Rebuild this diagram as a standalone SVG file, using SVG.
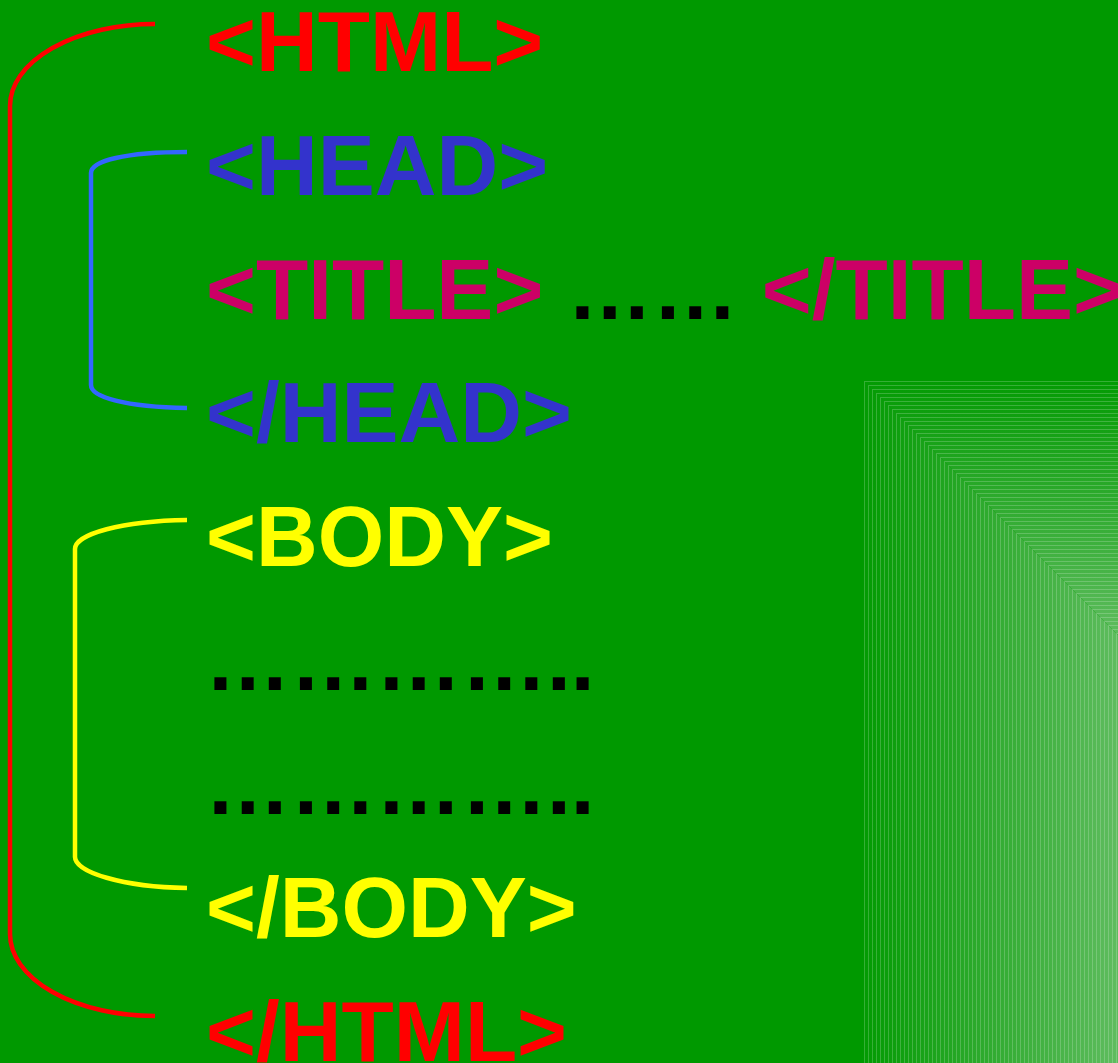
<svg xmlns="http://www.w3.org/2000/svg" xmlns:xlink="http://www.w3.org/1999/xlink" width="1118" height="1063" viewBox="0 0 1118 1063">
<style>
text{font-family:"Liberation Sans",Arial,sans-serif;font-weight:bold;font-size:85.5px}
.red{fill:#FF0000}
.blue{fill:#3333CC}
.ti{fill:#CC0066}
.yel{fill:#FFFF00}
.blk{fill:#000000}
.br{fill:none;stroke-width:4.5}
.gr{fill:none;stroke:#FFFFFF;stroke-opacity:0.2;stroke-width:1}
</style>
<defs>
<rect id="g" width="300" height="700" class="gr"/>
<linearGradient id="gx" gradientUnits="userSpaceOnUse" x1="864" y1="0" x2="1118" y2="0">
<stop offset="0" stop-color="#039B03"/><stop offset="1" stop-color="#5EBC5E"/>
</linearGradient>
<linearGradient id="gy" gradientUnits="userSpaceOnUse" x1="0" y1="381" x2="0" y2="635">
<stop offset="0" stop-color="#039B03"/><stop offset="1" stop-color="#5EBC5E"/>
</linearGradient>
</defs>
<rect x="0" y="0" width="1118" height="1063" fill="#009900"/>
<g id="shade">
<polygon points="864,381 1118,635 1118,1063 864,1063" fill="url(#gx)"/>
<polygon points="864,381 1118,381 1118,635" fill="url(#gy)"/>
<g transform="translate(0.5,0.5)">
<use xlink:href="#g" x="864" y="381"/><use xlink:href="#g" x="868" y="385"/><use xlink:href="#g" x="872" y="389"/><use xlink:href="#g" x="876" y="393"/>
<use xlink:href="#g" x="880" y="397"/><use xlink:href="#g" x="884" y="401"/><use xlink:href="#g" x="888" y="405"/><use xlink:href="#g" x="892" y="409"/>
<use xlink:href="#g" x="896" y="413"/><use xlink:href="#g" x="900" y="417"/><use xlink:href="#g" x="904" y="421"/><use xlink:href="#g" x="908" y="425"/>
<use xlink:href="#g" x="912" y="429"/><use xlink:href="#g" x="916" y="433"/><use xlink:href="#g" x="920" y="437"/><use xlink:href="#g" x="924" y="441"/>
<use xlink:href="#g" x="928" y="445"/><use xlink:href="#g" x="932" y="449"/><use xlink:href="#g" x="936" y="453"/><use xlink:href="#g" x="940" y="457"/>
<use xlink:href="#g" x="944" y="461"/><use xlink:href="#g" x="948" y="465"/><use xlink:href="#g" x="952" y="469"/><use xlink:href="#g" x="956" y="473"/>
<use xlink:href="#g" x="960" y="477"/><use xlink:href="#g" x="964" y="481"/><use xlink:href="#g" x="968" y="485"/><use xlink:href="#g" x="972" y="489"/>
<use xlink:href="#g" x="976" y="493"/><use xlink:href="#g" x="980" y="497"/><use xlink:href="#g" x="984" y="501"/><use xlink:href="#g" x="988" y="505"/>
<use xlink:href="#g" x="992" y="509"/><use xlink:href="#g" x="996" y="513"/><use xlink:href="#g" x="1000" y="517"/><use xlink:href="#g" x="1004" y="521"/>
<use xlink:href="#g" x="1008" y="525"/><use xlink:href="#g" x="1012" y="529"/><use xlink:href="#g" x="1016" y="533"/><use xlink:href="#g" x="1020" y="537"/>
<use xlink:href="#g" x="1024" y="541"/><use xlink:href="#g" x="1028" y="545"/><use xlink:href="#g" x="1032" y="549"/><use xlink:href="#g" x="1036" y="553"/>
<use xlink:href="#g" x="1040" y="557"/><use xlink:href="#g" x="1044" y="561"/><use xlink:href="#g" x="1048" y="565"/><use xlink:href="#g" x="1052" y="569"/>
<use xlink:href="#g" x="1056" y="573"/><use xlink:href="#g" x="1060" y="577"/><use xlink:href="#g" x="1064" y="581"/><use xlink:href="#g" x="1068" y="585"/>
<use xlink:href="#g" x="1072" y="589"/><use xlink:href="#g" x="1076" y="593"/><use xlink:href="#g" x="1080" y="597"/><use xlink:href="#g" x="1084" y="601"/>
<use xlink:href="#g" x="1088" y="605"/><use xlink:href="#g" x="1092" y="609"/><use xlink:href="#g" x="1096" y="613"/><use xlink:href="#g" x="1100" y="617"/>
<use xlink:href="#g" x="1104" y="621"/><use xlink:href="#g" x="1108" y="625"/><use xlink:href="#g" x="1112" y="629"/><use xlink:href="#g" x="1116" y="633"/>
</g>
</g>
<g id="connectors">
<path class="br" stroke="#FF0000" d="M155,24 A145,82 0 0 0 10,106 L10,934 A145,82 0 0 0 155,1016"/>
<path class="br" stroke="#3366FF" d="M187,152 C125,152 91,161 91,173 L91,385 C91,397 125,407 187,408"/>
<path class="br" stroke="#FFFF00" d="M187,520 C122,521 75,534 75,549 L75,857 C75,872 122,887 187,888"/>
</g>
<g id="html-open"><text x="206" y="71" class="red">&lt;HTML&gt;</text></g>
<g id="head-open"><text x="206" y="195" class="blue">&lt;HEAD&gt;</text></g>
<g id="title"><text x="206" y="318.5"><tspan class="ti">&lt;TITLE&gt;</tspan><tspan class="blk"> …… </tspan><tspan class="ti">&lt;/TITLE&gt;</tspan></text></g>
<g id="head-close"><text x="206" y="442" class="blue">&lt;/HEAD&gt;</text></g>
<g id="body-open"><text x="206" y="566" class="yel">&lt;BODY&gt;</text></g>
<g id="dots1"><text x="205" y="689.5" class="blk">…………..</text></g>
<g id="dots2"><text x="205" y="813.5" class="blk">…………..</text></g>
<g id="body-close"><text x="206" y="937" class="yel">&lt;/BODY&gt;</text></g>
<g id="html-close"><text x="206" y="1061" class="red">&lt;/HTML&gt;</text></g>
</svg>
